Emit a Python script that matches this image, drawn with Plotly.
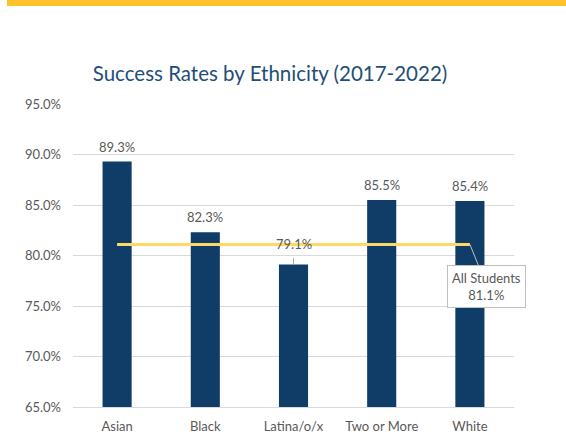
import plotly.graph_objects as go

categories = ["Asian", "Black", "Latina/o/x", "Two or More", "White"]
success_rates = [89.3, 82.3, 79.1, 85.5, 85.4]
all_students_rate = 81.1
title_text = "Success Rates by Ethnicity (2017-2022)"
tick_values = [65, 70, 75, 80, 85, 90, 95]
tick_labels = ["65.0%", "70.0%", "75.0%", "80.0%", "85.0%", "90.0%", "95.0%"]

BAR = "#0F3D67"
GRAY = "#595959"
FONT = "Lato"

fig = go.Figure()
fig.add_trace(go.Bar(
    x=categories, y=success_rates, marker=dict(color=BAR, line=dict(width=0)),
    hoverinfo="skip", showlegend=False,
))
fig.add_trace(go.Scatter(
    x=categories, y=[all_students_rate] * len(categories), mode="lines",
    line=dict(color="#FFD966", width=3), hoverinfo="skip", showlegend=False,
))

# value labels
for c, v in zip(categories, success_rates):
    shift = 11 if v < all_students_rate else 5
    fig.add_annotation(x=c, y=v, text=f"{v:.1f}%", showarrow=False,
                       yanchor="bottom", yshift=shift,
                       font=dict(family=FONT, size=13, color=GRAY))
    if v < all_students_rate:
        fig.add_annotation(x=c, y=v, ax=0, ay=-8, axref="pixel", ayref="pixel",
                           text="", showarrow=True, arrowhead=0, arrowwidth=1,
                           arrowcolor="#A6A6A6")

# callout
fig.add_annotation(x=categories[-1], y=all_students_rate,
                   text=f"All Students<br>{all_students_rate:.1f}%",
                   showarrow=True, arrowhead=0, arrowwidth=1, arrowcolor="#BFBFBF",
                   ax=17, ay=42, bgcolor="white", bordercolor="#BFBFBF", borderwidth=1,
                   borderpad=4, font=dict(family=FONT, size=13, color=GRAY))

# top gold band
fig.add_shape(type="rect", xref="paper", yref="paper",
              x0=(7 - 73) / 441, x1=(566 - 73) / 441,
              y0=(407 - 6) / 303, y1=(407 + 1) / 303,
              fillcolor="#FEC22B", line=dict(width=0), layer="above")

fig.update_layout(
    width=566, height=443,
    margin=dict(l=73, r=52, t=104, b=36, autoexpand=False),
    paper_bgcolor="white", plot_bgcolor="white",
    title=dict(text=title_text, x=270 / 566, xref="container", xanchor="center",
               y=1 - 74 / 443, yref="container", yanchor="middle",
               font=dict(family=FONT, size=20.5, color="#1F4E79")),
    bargap=0.67,
    font=dict(family=FONT, color=GRAY),
    xaxis=dict(showgrid=False, showline=True, linecolor="#D9D9D9", linewidth=1,
               range=[-0.5, len(categories) - 0.5], automargin=False,
               ticks="", ticklabelstandoff=7,
               tickfont=dict(family=FONT, size=13, color=GRAY)),
    yaxis=dict(range=[65, 95], tickvals=tick_values, ticktext=tick_labels,
               showgrid=True, gridcolor="#D9D9D9", gridwidth=1, zeroline=False,
               automargin=False,
               showline=False, ticks="", ticklen=0, ticklabelstandoff=11,
               tickfont=dict(family=FONT, size=13, color=GRAY)),
)

fig.write_html("out.html")
